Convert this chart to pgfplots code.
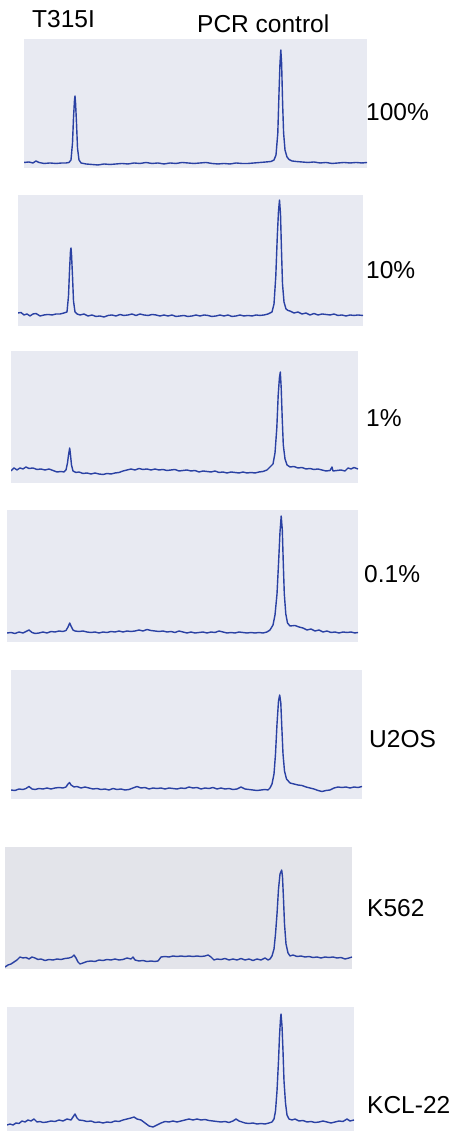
\documentclass[border=0pt]{standalone}
\usepackage{pgfplots}
\pgfplotsset{compat=1.18}
\usepackage{fontspec}
\setmainfont{Liberation Sans}
\definecolor{bgc}{HTML}{E8EAF2}
\definecolor{bgg}{HTML}{E3E4EA}
\definecolor{trace}{HTML}{2A41A3}
\pgfplotsset{panel/.style={scale only axis, anchor=north west,
  axis line style={draw=none}, xtick=\empty, ytick=\empty,
  axis background/.style={fill=bgc}, xmin=0, ymin=0},
  tr/.style={color=trace, line width=1.4bp, line join=round, mark=none}}
\begin{document}
\begin{tikzpicture}[x=1bp,y=1bp]
\useasboundingbox (0,0) rectangle (458,1131);
\fontsize{24.5bp}{28bp}\selectfont
% Panel 1: 100%
\begin{axis}[panel, at={(24bp,1092bp)}, width=343bp, height=129bp, xmax=343, ymax=129]
\addplot[tr] coordinates {(0,5.5)(5,6)(9,5)(12,7)(15,5.5)(20,4.5)(26,5)(32,4.5)(38,5)(42,5)(45,5.5)(47,8)(48.5,25)(49.5,50)(50.5,68)(51,72)(51.5,66)(52.5,45)(53.5,20)(55,8)(57,5)(62,4)(68,3.5)(74,3)(80,4)(86,3.5)(92,4)(98,4.5)(104,4)(110,5)(116,4.5)(122,5.5)(128,4.5)(134,5)(140,4)(146,5)(152,4.5)(158,5.5)(164,5)(170,4.5)(176,5)(182,5.5)(188,4.5)(194,4)(200,4.5)(206,4)(212,5)(218,4.5)(224,4.5)(230,5)(236,5.5)(242,6)(247,6.5)(250,8)(252,13)(253.8,35)(255,75)(256,105)(256.8,118)(257.6,105)(258.6,65)(259.6,35)(261,18)(263,11)(265,8.5)(268,7)(272,6.5)(278,6)(284,5.5)(290,6)(296,5)(302,5.5)(308,4.5)(314,5)(320,5.5)(326,5)(332,5.5)(338,5)(343,5.5)};
\end{axis}
% Panel 2: 10%
\begin{axis}[panel, at={(18bp,936bp)}, width=345bp, height=131bp, xmax=345, ymax=131]
\addplot[tr] coordinates {(0,13)(3,13.5)(6,11)(9,12)(12,10)(15,12)(18,12.5)(22,10)(26,11)(30,11.5)(34,11)(38,12)(42,12)(46,13)(49,14)(50.5,30)(51.5,55)(52.5,75)(53,78)(53.5,72)(54.5,50)(55.5,25)(57,14)(59,12)(62,11)(66,12)(70,10)(74,11)(78,9.5)(82,10)(86,9)(90,10.5)(94,11)(98,10)(102,11.5)(106,10.5)(110,11)(114,12)(118,10.5)(122,12)(126,11)(130,10.5)(134,11.5)(138,11)(142,10)(146,11)(150,10)(154,11)(158,9.5)(162,10)(166,10.5)(170,9.5)(174,10)(178,11)(182,10)(186,11)(190,10.5)(194,9.5)(198,10)(202,11)(206,10)(210,11)(214,9.5)(218,10)(222,11)(226,10)(230,10.5)(234,10)(238,11)(242,10.5)(246,11)(250,12)(254,14)(256,22)(257.8,50)(259.3,90)(260.5,115)(261.5,126)(262.5,112)(263.5,75)(264.5,42)(266,24)(268,17)(270,15.5)(272,15)(276,13)(280,14)(284,12)(288,13)(292,11)(296,12.5)(300,11)(304,12)(308,11.5)(312,11)(316,12)(320,10.5)(324,11)(328,10)(332,11)(336,10.5)(340,11)(345,10.5)};
\end{axis}
% Panel 3: 1%
\begin{axis}[panel, at={(11bp,780bp)}, width=347bp, height=132bp, xmax=347, ymax=132]
\addplot[tr] coordinates {(0,12)(3,15)(6,13)(9,15)(12,14)(15,16)(18,14.5)(22,15)(26,13.5)(30,14)(34,13)(38,14)(42,12.5)(46,11)(50,11.5)(53,11)(55,13)(56.5,20)(57.5,28)(58.7,35)(59.5,28)(60.5,18)(62,12)(65,10.5)(68,11)(72,9.5)(76,10)(80,9)(84,10)(88,9)(92,8.5)(96,9.5)(100,9)(104,10)(108,10.5)(112,12)(116,13)(120,14)(124,13)(128,14.5)(132,13.5)(136,14)(140,13)(144,14)(148,13)(152,13.5)(156,12.5)(160,13)(164,13.5)(168,12)(172,12.5)(176,13)(180,12)(184,12.5)(188,11)(192,12)(196,11.5)(200,11)(204,12)(208,10.5)(212,11)(216,10)(220,11)(224,10.5)(228,10)(232,11)(236,10)(240,10.5)(244,10)(248,11)(252,11.5)(256,13)(259,16)(262,19)(264,30)(265.8,55)(267.2,88)(268.4,105)(269.3,111)(270.2,95)(271.2,65)(272.3,38)(274,24)(276,18)(279,16)(283,16.5)(287,15)(291,15.5)(295,14)(299,14.5)(303,13.5)(307,14)(311,13)(315,12)(319,12.5)(321,16)(322,12)(326,12.5)(330,13)(334,12)(337,15)(340,14)(343,15.5)(347,14)};
\end{axis}
% Panel 4: 0.1%
\begin{axis}[panel, at={(7bp,621bp)}, width=351bp, height=132bp, xmax=351, ymax=132]
\addplot[tr] coordinates {(0,9)(4,9.5)(8,8.5)(12,10)(16,9)(19,10.5)(22,12)(25,9.5)(28,8.5)(32,9)(36,10)(40,9)(44,10.5)(48,10)(52,11)(56,10.5)(59,11.5)(61,15)(62.7,19)(64,16)(66,12)(68,11)(72,10.5)(76,11)(80,10)(84,9.5)(88,10)(92,9)(96,10)(100,9.5)(104,10.5)(108,10)(112,11)(116,10)(120,11)(124,10.5)(128,11)(132,12)(136,11)(140,12.5)(144,11.5)(148,11)(152,10.5)(156,11)(160,10)(164,10.5)(168,9.5)(172,11)(176,10)(180,9)(184,10)(188,9)(192,9.5)(196,10)(200,9)(204,10)(208,9.5)(212,11)(216,10)(220,9)(224,9.5)(228,9)(232,10)(236,9.5)(240,9)(244,9.5)(248,9)(252,9.5)(256,9)(260,10)(263,12)(266,17)(268,27)(270,48)(271.6,80)(273,110)(274.2,126)(275.3,112)(276.3,78)(277.3,48)(278.8,28)(280.5,19)(283,16)(288,16.5)(292,15)(296,14)(300,12)(304,13)(308,11)(312,12)(316,10)(320,11)(324,9.5)(328,10)(332,9)(336,10)(340,9.5)(344,10)(348,9)(351,9.5)};
\end{axis}
% Panel 5: U2OS
\begin{axis}[panel, at={(11bp,461bp)}, width=351bp, height=129bp, xmax=351, ymax=129]
\addplot[tr] coordinates {(0,9)(4,8.5)(8,10)(12,9.5)(15,10.5)(18,12.5)(21,10)(24,9.5)(28,10.5)(32,10)(36,11)(40,10)(44,11)(48,11.5)(52,11)(55,12)(57,15)(58.5,16.5)(60,14)(63,12)(66,12.5)(70,11)(74,12)(78,11)(82,10)(86,10.5)(90,9.5)(94,10)(98,9)(102,10.5)(106,9.5)(110,10)(114,9)(118,9.5)(122,11)(126,12.5)(130,11)(134,11.5)(138,10)(142,11)(146,10.5)(150,11)(154,10)(158,11)(162,10.5)(166,10)(170,11)(174,10.5)(178,12)(182,11)(186,11.5)(190,10)(194,11)(198,10.5)(202,11.5)(206,10)(210,11)(214,10)(218,10.5)(222,9.5)(226,10)(230,12)(234,10)(238,9.5)(242,9)(246,8.5)(250,9)(254,9.5)(257,9)(259,11)(261,15)(263,25)(264.5,45)(266,75)(267.5,98)(268.7,104)(269.8,96)(270.8,72)(272,45)(273.5,28)(275.5,20)(279,16)(283,15)(287,14)(291,13.5)(295,12)(299,11)(303,10)(307,8.5)(311,7.5)(315,8.5)(319,9)(323,11)(327,12)(331,11.5)(335,12)(339,11)(343,12)(347,11.5)(351,12.5)};
\end{axis}
% Panel 6: K562
\begin{axis}[panel, axis background/.style={fill=bgg}, at={(5bp,284bp)}, width=347bp, height=122bp, xmax=347, ymax=122]
\addplot[tr] coordinates {(0,2)(3,4)(6,5)(9,7)(12,9)(15,12)(18,11)(21,11.5)(24,10)(27,12)(30,11)(33,9.5)(36,10)(40,8.5)(44,9.5)(48,9)(52,10)(56,9.5)(60,10.5)(64,11)(67,12)(69,14)(71,11)(73,7)(75,5)(78,6)(82,7.5)(86,8)(90,7.5)(94,9)(98,8.5)(102,9.5)(106,9)(110,10)(114,9)(118,9.5)(122,11)(126,10)(128,12)(130,9)(134,8)(138,8.5)(142,7.5)(146,8)(150,7.5)(153,8)(156,12)(160,12.5)(164,12)(168,13)(172,12.5)(176,13)(180,12.5)(184,13)(188,12.5)(192,13)(196,12.5)(200,13)(203,14)(206,12)(209,9)(212,10)(216,9.5)(220,10.5)(224,9)(228,10)(232,9)(236,10.5)(240,9)(244,10)(248,8.5)(252,10)(256,9)(260,11)(263,9)(265,10)(267,13)(269,20)(270.5,35)(272,55)(273.5,80)(275,95)(276.7,99)(277.5,92)(278.5,70)(279.5,45)(281,25)(283,16)(285,13)(288,14)(292,12.5)(296,13)(300,12)(304,12.5)(308,11.5)(312,12)(316,11)(320,12)(324,11.5)(328,12)(332,11)(336,11.5)(340,10)(344,11)(347,12)};
\end{axis}
% Panel 7: KCL-22
\begin{axis}[panel, at={(7bp,124bp)}, width=347bp, height=124bp, xmax=347, ymax=124]
\addplot[tr] coordinates {(0,6)(3,7)(6,6)(9,8)(12,7.5)(15,10)(18,9)(21,11)(24,10)(27,12)(30,9)(33,9.5)(36,8.5)(40,9)(44,10)(48,9.5)(52,11)(56,10)(60,12)(64,11)(66,14)(68,17)(70,13)(72,11)(76,10.5)(80,9.5)(84,10)(88,8.5)(92,9)(96,8)(100,9)(104,8.5)(108,10)(112,9.5)(116,11)(120,12)(124,13)(127,14)(130,12)(134,11)(138,8)(142,5)(146,4)(150,6)(154,8)(158,9.5)(162,9)(166,10)(170,9)(174,10)(178,11)(182,12)(186,11)(190,12)(194,11)(198,11.5)(202,10.5)(206,10)(210,9.5)(214,9)(218,9.5)(222,8.5)(226,10)(229,12)(232,10)(235,9)(238,8)(242,7.5)(246,8)(250,7)(254,7.5)(258,7)(262,8)(265,9)(267,12)(268.5,20)(270,40)(271.5,70)(272.5,95)(273.5,112)(274,117)(275,105)(276,80)(277,50)(278.5,28)(280,16)(282,12)(285,11)(288,12)(292,10)(296,10.5)(300,9)(304,9.5)(308,8.5)(312,9)(316,10)(320,9)(324,8)(328,9)(332,10)(336,9.5)(340,12)(343,10)(347,11)};
\end{axis}
% Labels
\node[anchor=west, inner sep=0pt] at (32,1112) {T315I};
\node[anchor=west, inner sep=0pt] at (197,1107) {PCR control};
\node[anchor=west, inner sep=0pt] at (366,1019) {100\%};
\node[anchor=west, inner sep=0pt] at (366,861) {10\%};
\node[anchor=west, inner sep=0pt] at (366,712.5) {1\%};
\node[anchor=west, inner sep=0pt] at (364,557) {0.1\%};
\node[anchor=west, inner sep=0pt] at (369,392) {U2OS};
\node[anchor=west, inner sep=0pt] at (367,223) {K562};
\node[anchor=west, inner sep=0pt] at (367,26) {KCL-22};
\end{tikzpicture}
\end{document}
